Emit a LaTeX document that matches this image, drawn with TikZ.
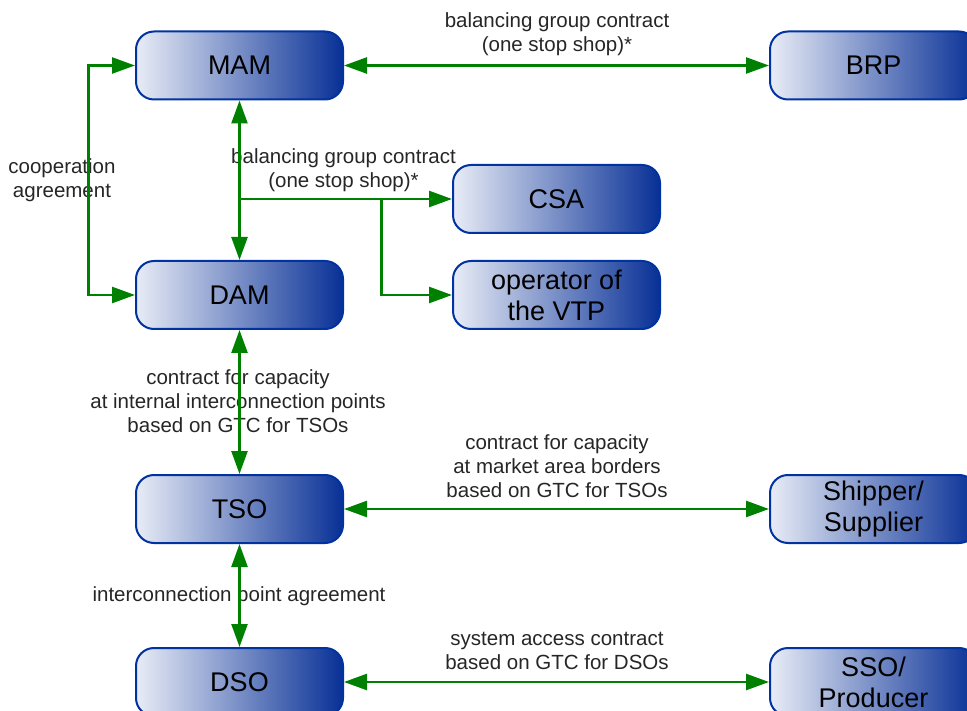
\documentclass[tikz,border=0pt]{standalone}
\usepackage{fontspec}
\setmainfont{Liberation Sans}
\usetikzlibrary{arrows.meta}
\definecolor{gline}{RGB}{0,128,0}
\definecolor{bdark}{RGB}{8,48,150}
\definecolor{blight}{RGB}{232,236,246}
\definecolor{bborder}{RGB}{0,51,160}
\begin{document}
\begin{tikzpicture}[x=1pt,y=-1pt,
  box/.style={draw=bborder, line width=2pt, rounded corners=18pt, left color=blight, right color=bdark,
    minimum width=207pt, minimum height=68pt, inner sep=0pt, align=center,
    font=\fontsize{27}{31}\selectfont, text=black},
  lbl/.style={align=center, font=\fontsize{20.5}{24}\selectfont, inner sep=0pt, text=black!85},
  conn/.style={draw=gline, line width=2.5pt, -{Triangle[length=23pt,width=16pt]}},
  conntwo/.style={draw=gline, line width=2.5pt, {Triangle[length=23pt,width=16pt]}-{Triangle[length=23pt,width=16pt]}}
]
\useasboundingbox (0,0) rectangle (967,711);
\clip (0,0) rectangle (967,711);

% boxes
\node[box] (MAM) at (239.5,65.5) {MAM};
\node[box] (BRP) at (873.5,65.5) {BRP};
\node[box] (CSA) at (556.5,199) {CSA};
\node[box] (VTP) at (556.5,295) {operator of\\the VTP};
\node[box] (DAM) at (239.5,295) {DAM};
\node[box] (TSO) at (239.5,509) {TSO};
\node[box] (SHP) at (873.5,509) {Shipper/\\Supplier};
\node[box] (DSO) at (239.5,682) {DSO};
\node[box] (SSO) at (873.5,682) {SSO/\\Producer};

% labels
\node[lbl] (l1) at (557,34) {balancing group contract\\(one stop shop)*};
\node[lbl] (l2) at (343.5,170) {balancing group contract\\(one stop shop)*};
\node[lbl] (l3) at (62,180) {cooperation\\agreement};
\node[lbl] (l4) at (238,401) {contract for capacity\\at internal interconnection points\\based on GTC for TSOs};
\node[lbl] (l5) at (557,466) {contract for capacity\\at market area borders\\based on GTC for TSOs};
\node[lbl] (l6) at (239,596) {interconnection point agreement};
\node[lbl] (l7) at (557,651) {system access contract\\based on GTC for DSOs};

% connectors
\draw[conntwo] (MAM) -- (BRP);
\draw[conntwo] (MAM) -- (DAM);
\coordinate (b1) at (MAM.south |- CSA.west);
\draw[conn] (b1) -- (CSA.west);
\coordinate (b2) at (381.5,199);
\draw[conn] (b2) |- (VTP.west);
\coordinate (c1) at (88.5,0);
\draw[conntwo] (MAM.west) -- (MAM.west -| c1) -- (DAM.west -| c1) -- (DAM.west);
\draw[conntwo] (DAM) -- (TSO);
\draw[conntwo] (TSO) -- (SHP);
\draw[conntwo] (TSO) -- (DSO);
\draw[conntwo] (DSO) -- (SSO);
\end{tikzpicture}
\end{document}
